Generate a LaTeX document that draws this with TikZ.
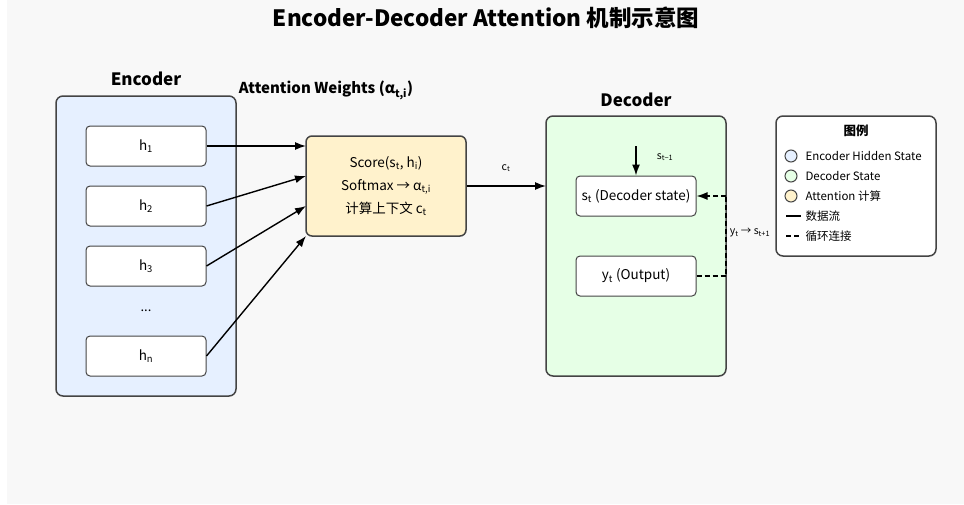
\documentclass[tikz,border=0pt]{standalone}
\usepackage{fontspec}
\setmainfont{Noto Sans CJK SC}
\usetikzlibrary{arrows.meta}
\definecolor{bg}{HTML}{F8F8F8}
\definecolor{encf}{HTML}{E6F0FF}
\definecolor{decf}{HTML}{E6FFE6}
\definecolor{attf}{HTML}{FFF2CC}
\definecolor{edge}{HTML}{444444}
\newcommand{\sbs}[1]{\textsubscript{#1}}
\tikzset{
 panel/.style={draw=edge,line width=1.5pt,rounded corners=7pt},
 box/.style={draw=edge,fill=white,line width=1pt,rounded corners=4pt,minimum width=120pt,minimum height=40pt,font=\fontsize{13.5}{16}\selectfont},
 lbl/.style={font=\bfseries\fontsize{17}{19}\selectfont},
 arr/.style={-{Latex[length=11pt,width=8pt]},line width=1.4pt,black},
 dsh/.style={line width=1.5pt,black,dash pattern=on 5pt off 3pt},
 lg/.style={font=\fontsize{11.5}{13}\selectfont,anchor=west},
 small/.style={font=\fontsize{10.5}{12}\selectfont}
}
\begin{document}
\begin{tikzpicture}[x=1pt,y=-1pt]
\useasboundingbox (0,0) rectangle (964,504);
\fill[bg] (7,0) rectangle (964,504);
\node[font=\bfseries\fontsize{22.5}{26}\selectfont] (title) at (486,18) {Encoder-Decoder Attention 机制示意图};
% encoder
\draw[panel,fill=encf] (56,96) rectangle (236,396);
\node[lbl] (enc) at (146,79) {Encoder};
\node[box] (h1) at (146,146) {h\sbs{1}};
\node[box] (h2) at (146,206) {h\sbs{2}};
\node[box] (h3) at (146,266) {h\sbs{3}};
\node[font=\fontsize{13}{15}\selectfont] (dots) at (146,311) {...};
\node[box] (hn) at (146,356) {h\sbs{n}};
% attention
\node[box,fill=attf,minimum width=160pt,minimum height=100pt,line width=1.5pt,rounded corners=6pt,align=center] (att) at (386,186)
 {Score(s\sbs{t}, h\sbs{i})\\[7pt] Softmax → α\sbs{t,i}\\[7pt] 计算上下文 c\sbs{t}};
\node[font=\bfseries\fontsize{15}{17}\selectfont] (attl) at (326,90) {Attention Weights (α\sbs{t,i})};
\coordinate (a1) at (306,146);
\coordinate (a2) at (306,176);
\coordinate (a3) at (306,206);
\coordinate (a4) at (306,236);
\draw[arr] (h1.east) -- (a1);
\draw[arr] (h2.east) -- (a2);
\draw[arr] (h3.east) -- (a3);
\draw[arr] (hn.east) -- (a4);
% decoder
\draw[panel,fill=decf] (546,116) rectangle (726,376);
\node[lbl] (dec) at (636,100) {Decoder};
\coordinate (dl) at (546,186);
\draw[arr] (att.east) -- (dl);
\node[small] (ct) at (506,168) {c\sbs{t}};
\node[box] (st) at (636,196) {s\sbs{t} (Decoder state)};
\node[box] (yt) at (636,276) {y\sbs{t} (Output)};
\coordinate (sin) at (636,146);
\draw[arr] (sin) -- (st.north);
\node[small] (stm) at (665,157) {s\sbs{t−1}};
\coordinate (c1) at (726,276);
\coordinate (c2) at (726,196);
\draw[dsh] (yt.east) -- (c1) -- (c2);
\draw[dsh,-{Latex[length=11pt,width=8pt]}] (c2) -- (st.east);
\node[small] (yl) at (750,233) {y\sbs{t} → s\sbs{t+1}};
% legend
\draw[draw=edge,fill=white,line width=1.5pt,rounded corners=7pt] (776,116) rectangle (936,256);
\node[font=\bfseries\fontsize{12.5}{14}\selectfont] (lt) at (856,131) {图例};
\draw[edge,line width=1pt,fill=encf] (791,156) circle (6);
\draw[edge,line width=1pt,fill=decf] (791,176) circle (6);
\draw[edge,line width=1pt,fill=attf] (791,196) circle (6);
\node[lg] at (802,156) {Encoder Hidden State};
\node[lg] at (802,176) {Decoder State};
\node[lg] at (802,196) {Attention 计算};
\draw[line width=1.5pt] (786,216) -- (801,216);
\draw[dsh] (786,236) -- (801,236);
\node[lg] at (802,216) {数据流};
\node[lg] at (802,236) {循环连接};
\end{tikzpicture}
\end{document}
